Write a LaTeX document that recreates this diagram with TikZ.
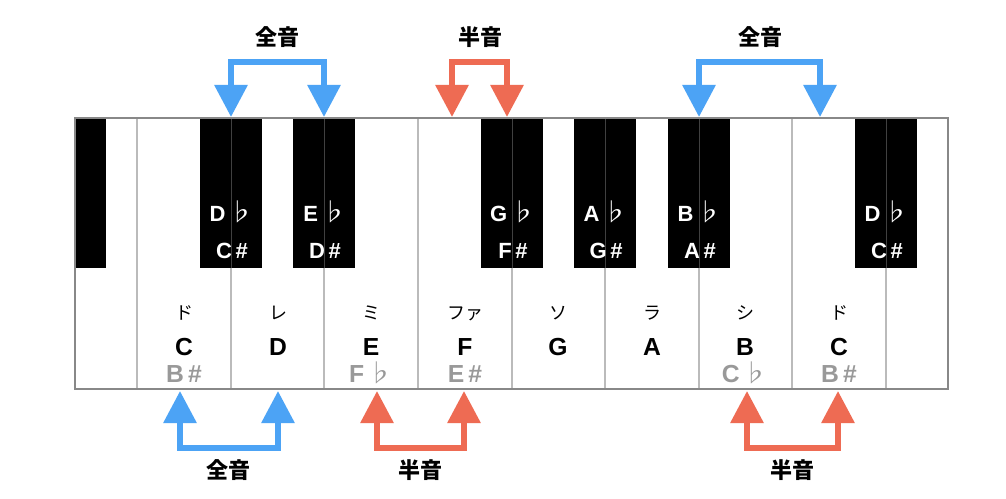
\documentclass[tikz,border=0pt]{standalone}
\usepackage{fontspec}
\setmainfont{Liberation Sans}
\newfontfamily\jp{Noto Sans CJK JP}
\usetikzlibrary{arrows.meta}
\definecolor{tblue}{HTML}{4CA3F5}
\definecolor{tred}{HTML}{EE6B53}
\definecolor{tgray}{HTML}{999999}
\definecolor{divline}{HTML}{BBBBBB}
\definecolor{border}{HTML}{888888}
\tikzset{
  blackkey/.style={fill=black, draw=none},
  divider/.style={draw=divline, line width=0.9pt},
  divdark/.style={draw=black!75, line width=0.7pt},
  blacklbl/.style={text=white, font=\fontsize{16.5}{18}\selectfont\bfseries, anchor=base, inner sep=0pt},
  kana/.style={text=black, font=\jp\fontsize{13.5}{15}\selectfont, anchor=base, inner sep=0pt},
  letter/.style={text=black, font=\fontsize{18.5}{20}\selectfont\bfseries, anchor=base, inner sep=0pt},
  altlbl/.style={text=tgray, font=\fontsize{18.5}{20}\selectfont\bfseries, anchor=base, inner sep=0pt},
  steplbl/.style={text=black, font=\jp\bfseries\fontsize{16.5}{18}\selectfont, anchor=center, inner sep=0pt},
  bracket/.style={line width=4.5pt, line join=miter,
    arrows={Triangle[length=24pt,width=24pt]-Triangle[length=24pt,width=24pt]}},
  bbl/.style={bracket, draw=tblue},
  brd/.style={bracket, draw=tred},
}
\newcommand{\fl}{\hspace{2.5pt}{\jp\mdseries\fontsize{19}{20}\selectfont ♭}}
\begin{document}
\begin{tikzpicture}[x=0.75pt,y=-0.75pt]
\useasboundingbox (0,0) rectangle (1006,499);
\fill[white] (0,0) rectangle (1006,499);
% white key dividers
\foreach \x in {137,231,324,418,512,605,699,792,886}
  \draw[divider] (\x,118) -- (\x,389);
% black keys
\fill[blackkey] (75,118) rectangle (106,268);
\foreach \x in {231,324,512,605,699,886}
  \fill[blackkey] (\x-31,118) rectangle (\x+31,268);
\foreach \x in {231,324,512,605,699,886}
  \draw[divdark] (\x,118.5) -- (\x,267.5);
% outer border
\draw[border, line width=1pt] (75,118) rectangle (948,389);

% black key labels
\node[blacklbl] (db1) at (232,221) {D\fl};
\node[blacklbl] (cs1) at (232,258) {C\,\#};
\node[blacklbl] (eb) at (325,221) {E\fl};
\node[blacklbl] (ds) at (325,258) {D\,\#};
\node[blacklbl] (gb) at (513,221) {G\fl};
\node[blacklbl] (fs) at (513,258) {F\,\#};
\node[blacklbl] (ab) at (606,221) {A\fl};
\node[blacklbl] (gs) at (606,258) {G\,\#};
\node[blacklbl] (bb) at (700,221) {B\fl};
\node[blacklbl] (as) at (700,258) {A\,\#};
\node[blacklbl] (db2) at (887,221) {D\fl};
\node[blacklbl] (cs2) at (887,258) {C\,\#};

% white key labels
\node[kana] (k1) at (184,319) {ド};
\node[kana] (k2) at (278,319) {レ};
\node[kana] (k3) at (371,319) {ミ};
\node[kana] (k4) at (465,319) {ファ};
\node[kana] (k5) at (558,319) {ソ};
\node[kana] (k6) at (652,319) {ラ};
\node[kana] (k7) at (745,319) {シ};
\node[kana] (k8) at (839,319) {ド};
\node[letter] (c1) at (184,355) {C};
\node[letter] (d) at (278,355) {D};
\node[letter] (e) at (371,355) {E};
\node[letter] (f) at (465,355) {F};
\node[letter] (g) at (558,355) {G};
\node[letter] (a) at (652,355) {A};
\node[letter] (b) at (745,355) {B};
\node[letter] (c2) at (839,355) {C};
\node[altlbl] (bs1) at (184,382) {B\,\#};
\node[altlbl] (fb) at (371,382) {F\fl};
\node[altlbl] (es) at (465,382) {E\,\#};
\node[altlbl] (cb) at (745,382) {C\fl};
\node[altlbl] (bs2) at (839,382) {B\,\#};

% top brackets
\coordinate (topy) at (0,62);
\coordinate (ta1) at (231,117); \coordinate (tb1) at (324,117);
\coordinate (ta2) at (452,117); \coordinate (tb2) at (507,117);
\coordinate (ta3) at (699,117); \coordinate (tb3) at (820,117);
\draw[bbl] (ta1) -- (ta1 |- topy) -- (tb1 |- topy) -- (tb1);
\draw[brd] (ta2) -- (ta2 |- topy) -- (tb2 |- topy) -- (tb2);
\draw[bbl] (ta3) -- (ta3 |- topy) -- (tb3 |- topy) -- (tb3);
\node[steplbl] (l1) at (277,37) {全音};
\node[steplbl] (l2) at (480,37) {半音};
\node[steplbl] (l3) at (760,37) {全音};

% bottom brackets
\coordinate (boty) at (0,448);
\coordinate (ba1) at (180,391); \coordinate (bb1) at (278,391);
\coordinate (ba2) at (377,391); \coordinate (bb2) at (464,391);
\coordinate (ba3) at (747,391); \coordinate (bb3) at (838,391);
\draw[bbl] (ba1) -- (ba1 |- boty) -- (bb1 |- boty) -- (bb1);
\draw[brd] (ba2) -- (ba2 |- boty) -- (bb2 |- boty) -- (bb2);
\draw[brd] (ba3) -- (ba3 |- boty) -- (bb3 |- boty) -- (bb3);
\node[steplbl] (l4) at (228,470) {全音};
\node[steplbl] (l5) at (420,470) {半音};
\node[steplbl] (l6) at (792,470) {半音};
\end{tikzpicture}
\end{document}
